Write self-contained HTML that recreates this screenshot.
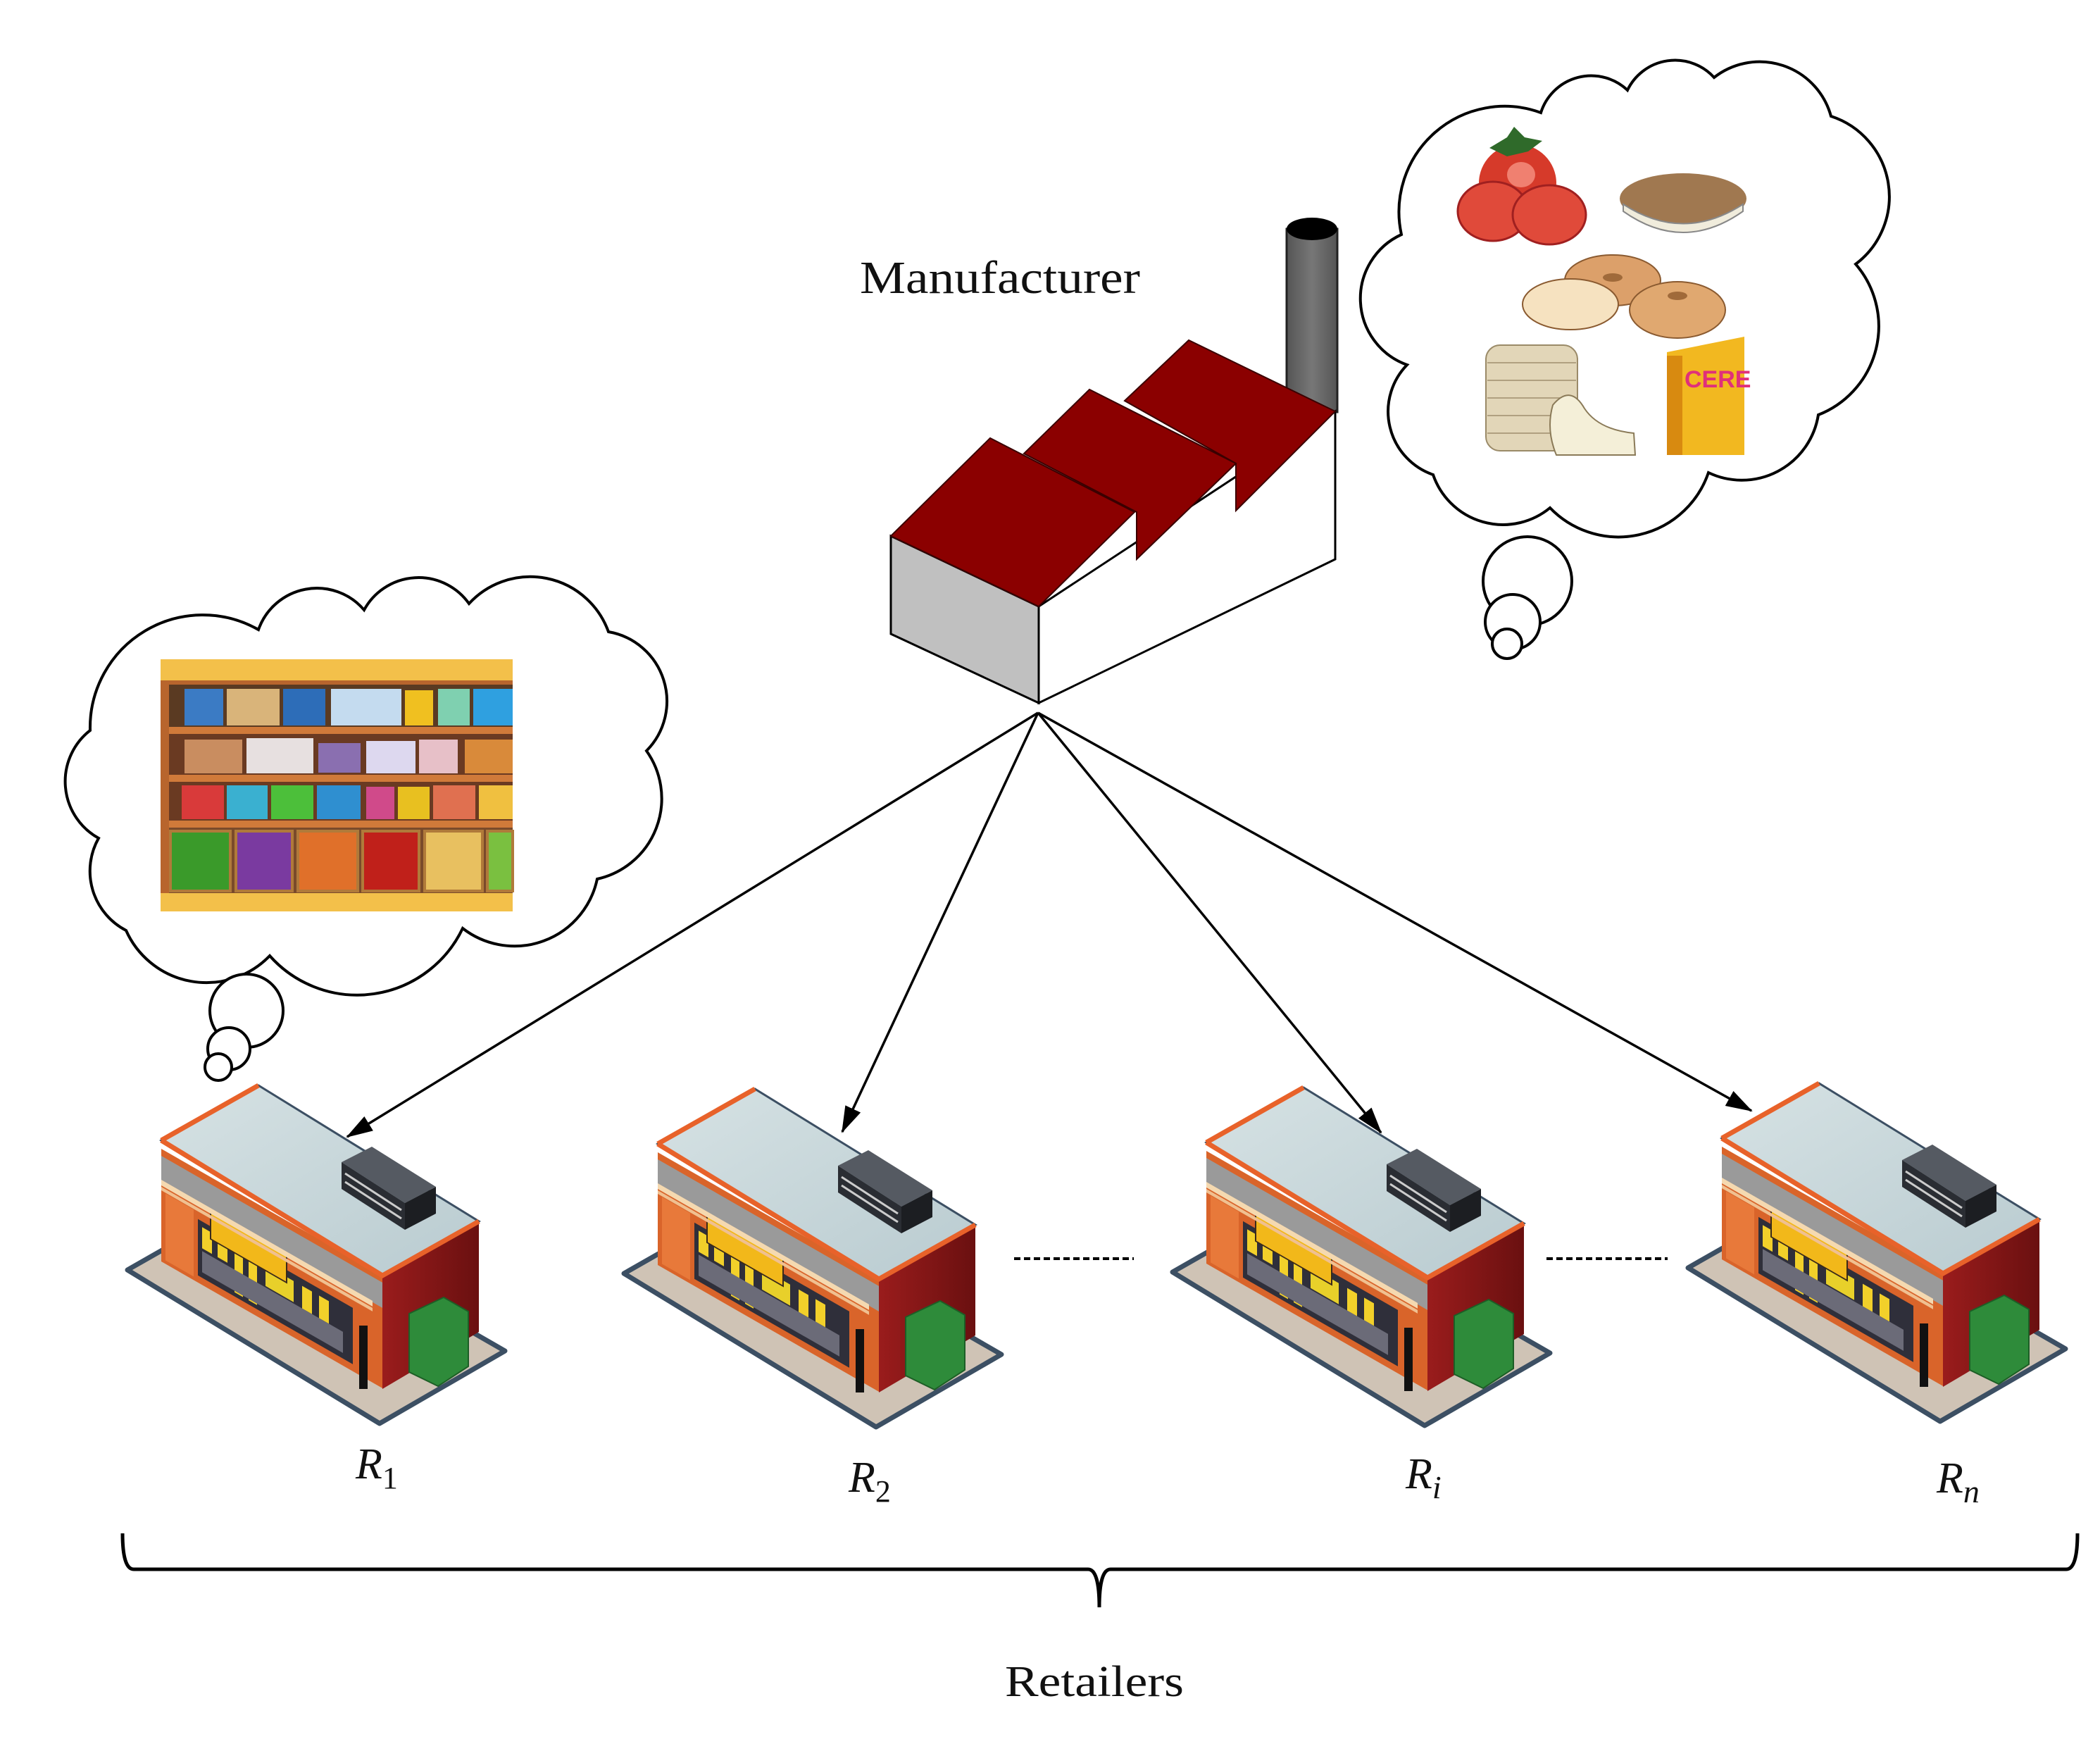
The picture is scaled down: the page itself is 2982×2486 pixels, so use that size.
<!DOCTYPE html>
<html><head><meta charset="utf-8"><style>
html,body{margin:0;padding:0;background:#fff;}
svg{display:block;}
</style></head><body>
<svg width="2982" height="2486" viewBox="0 0 2982 2486" xmlns="http://www.w3.org/2000/svg">
<defs>
<marker id="ah" markerUnits="userSpaceOnUse" markerWidth="40" markerHeight="30" refX="36" refY="12" orient="auto">
<path d="M0,0 L38,12 L0,24 Z" fill="#000"/>
</marker>
<linearGradient id="rw" x1="0" y1="0" x2="1" y2="0"><stop offset="0" stop-color="#9a1c1c"/><stop offset="1" stop-color="#6a1010"/></linearGradient>
<linearGradient id="roof" x1="0" y1="0" x2="1" y2="1"><stop offset="0" stop-color="#d6e2e4"/><stop offset="1" stop-color="#b9cbd0"/></linearGradient>
<linearGradient id="chim" x1="0" y1="0" x2="1" y2="0"><stop offset="0" stop-color="#555"/><stop offset="0.5" stop-color="#777"/><stop offset="1" stop-color="#555"/></linearGradient>
<g id="store">
  <polygon points="21,283 379,501 557,398 470,348 100,238" fill="#cfc3b5" stroke="#3c4f63" stroke-width="7" stroke-linejoin="round"/>
  <g transform="matrix(1,0.573,0,1,69,111)">
    <rect x="0" y="0" width="314" height="160" fill="#d9642a"/>
    <rect x="6" y="60" width="40" height="95" fill="#e8793a"/>
    <rect x="52" y="70" width="220" height="80" fill="#2f2f3a"/>
    <rect x="58" y="78" width="14" height="30" fill="#f2d02a"/>
    <rect x="80" y="78" width="14" height="30" fill="#f2d02a"/>
    <rect x="104" y="74" width="12" height="70" fill="#f2d02a"/>
    <rect x="124" y="74" width="12" height="70" fill="#f2d02a"/>
    <rect x="148" y="80" width="40" height="30" fill="#e8d02a"/>
    <rect x="200" y="80" width="14" height="32" fill="#f2d02a"/>
    <rect x="224" y="80" width="14" height="32" fill="#f2d02a"/>
    <rect x="58" y="112" width="200" height="30" fill="#6b6b78"/>
    <rect x="70" y="48" width="108" height="40" fill="#f2b81a" stroke="#3a2a1a" stroke-width="2"/>
    <rect x="0" y="10" width="314" height="36" fill="#9a9a9a"/>
    <rect x="0" y="44" width="300" height="8" fill="#f5d9b0"/>
    <rect x="0" y="54" width="300" height="5" fill="#f0c090"/>
  </g>
  <polygon points="383,291 520,214 520,371 383,452" fill="url(#rw)"/>
  <rect x="350" y="362" width="12" height="90" fill="#111"/>
  <polygon points="421,345 470,322 505,342 505,420 462,448 421,428" fill="#2e8b3a" stroke="#1d5e26" stroke-width="2"/>
  <polygon points="69,99 207,21 520,214 383,291" fill="url(#roof)" stroke="#3c4f63" stroke-width="3"/>
  <polyline points="69,99 383,291 520,214" fill="none" stroke="#e8622a" stroke-width="7"/>
  <line x1="69" y1="99" x2="207" y2="21" stroke="#e8622a" stroke-width="7"/>
  <polygon points="325,130 368,108 459,165 415,188" fill="#555a62"/>
  <polygon points="325,130 415,188 415,226 325,168" fill="#2a2d33"/>
  <polygon points="415,188 459,165 459,203 415,226" fill="#1c1e22"/>
  <line x1="330" y1="146" x2="410" y2="198" stroke="#ccc" stroke-width="3"/>
  <line x1="330" y1="158" x2="410" y2="210" stroke="#ccc" stroke-width="3"/>
</g>
</defs>

<text x="1221" y="416" font-family="Liberation Serif, serif" font-size="66" textLength="398" lengthAdjust="spacingAndGlyphs" fill="#111">Manufacturer</text>

<!-- Factory -->
<rect x="1827" y="325" width="72" height="260" fill="url(#chim)" stroke="#222" stroke-width="3"/>
<ellipse cx="1863" cy="325" rx="36" ry="16" fill="#000"/>
<polygon points="1475,861 1896,584 1896,794 1475,998" fill="#fff" stroke="#000" stroke-width="3"/>
<polygon points="1265,761 1475,861 1475,998 1265,900" fill="#c0c0c0" stroke="#000" stroke-width="3"/>
<polygon points="1597,569 1688,483 1896,584 1755,725 1755,658" fill="#8b0000" stroke="#3a0000" stroke-width="2"/>
<polygon points="1454,644 1547,553 1755,658 1614,794 1614,727" fill="#8b0000" stroke="#3a0000" stroke-width="2"/>
<polygon points="1265,761 1406,622 1611,727 1475,861" fill="#8b0000" stroke="#3a0000" stroke-width="2"/>

<!-- Arrows -->
<g stroke="#000" stroke-width="3.5" fill="none">
<line x1="1474" y1="1012" x2="493" y2="1614" marker-end="url(#ah)"/>
<line x1="1474" y1="1012" x2="1196" y2="1607" marker-end="url(#ah)"/>
<line x1="1474" y1="1012" x2="1961" y2="1608" marker-end="url(#ah)"/>
<line x1="1474" y1="1012" x2="2487" y2="1577" marker-end="url(#ah)"/>
</g>

<!-- Left cloud -->
<g fill="#fff" stroke="#000" stroke-width="4">
<path d="M140,1190 A92,92 0 0 1 128,1037 A160,160 0 0 1 367,894 A88,88 0 0 1 517,866 A88,88 0 0 1 666,857 A118,118 0 0 1 864,897 A100,100 0 0 1 918,1066 A117,117 0 0 1 848,1248 A120,120 0 0 1 657,1318 A166,166 0 0 1 383,1357 A125,125 0 0 1 179,1321 A95,95 0 0 1 140,1190 Z"/>
<circle cx="350" cy="1435" r="52"/>
<circle cx="325" cy="1489" r="30"/>
<circle cx="310" cy="1515" r="19"/>
</g>
<g>
<rect x="228" y="936" width="500" height="358" fill="#b8652d"/>
<rect x="228" y="936" width="500" height="30" fill="#f3c04a"/>
<rect x="240" y="972" width="488" height="60" fill="#5a3a22"/>
<rect x="262" y="978" width="55" height="52" fill="#3b7bc4"/><rect x="322" y="978" width="75" height="52" fill="#d9b47a"/><rect x="402" y="978" width="60" height="52" fill="#2d6db8"/><rect x="470" y="978" width="100" height="52" fill="#c4dbef"/><rect x="575" y="980" width="40" height="50" fill="#f0c020"/><rect x="622" y="978" width="45" height="52" fill="#7fd0b0"/><rect x="672" y="978" width="56" height="52" fill="#2fa0e0"/>
<rect x="240" y="1032" width="488" height="10" fill="#d07a3a"/>
<rect x="240" y="1042" width="488" height="58" fill="#6a3a22"/>
<rect x="262" y="1050" width="82" height="48" fill="#c98d60"/><rect x="350" y="1048" width="95" height="50" fill="#e7e0e0"/><rect x="452" y="1055" width="60" height="42" fill="#8a6fb0"/><rect x="520" y="1052" width="70" height="46" fill="#ddd8ef"/><rect x="595" y="1050" width="55" height="48" fill="#e7c0c8"/><rect x="660" y="1050" width="68" height="48" fill="#d98a3a"/>
<rect x="240" y="1100" width="488" height="10" fill="#d07a3a"/>
<rect x="240" y="1110" width="488" height="55" fill="#6a3a22"/>
<rect x="258" y="1115" width="60" height="48" fill="#d93a3a"/><rect x="322" y="1115" width="58" height="48" fill="#3ab0d0"/><rect x="385" y="1115" width="60" height="48" fill="#4cbf3a"/><rect x="450" y="1115" width="62" height="48" fill="#2f8fd0"/><rect x="520" y="1117" width="40" height="46" fill="#d04a8a"/><rect x="565" y="1117" width="45" height="46" fill="#e8c020"/><rect x="615" y="1115" width="60" height="48" fill="#e07050"/><rect x="680" y="1115" width="48" height="48" fill="#f0c040"/>
<rect x="240" y="1165" width="488" height="10" fill="#d07a3a"/>
<rect x="240" y="1175" width="488" height="95" fill="#7a4a2a"/>
<rect x="242" y="1180" width="85" height="85" fill="#3a9a2a" stroke="#b07a3a" stroke-width="4"/>
<rect x="335" y="1180" width="80" height="85" fill="#7a3aa0" stroke="#b07a3a" stroke-width="4"/>
<rect x="423" y="1180" width="85" height="85" fill="#e0702a" stroke="#b07a3a" stroke-width="4"/>
<rect x="515" y="1180" width="80" height="85" fill="#c0201a" stroke="#b07a3a" stroke-width="4"/>
<rect x="603" y="1180" width="82" height="85" fill="#e8c060" stroke="#b07a3a" stroke-width="4"/>
<rect x="692" y="1180" width="36" height="85" fill="#7ac040" stroke="#b07a3a" stroke-width="4"/>
<rect x="228" y="1268" width="500" height="26" fill="#f3c04a"/>
</g>

<!-- Right cloud -->
<g fill="#fff" stroke="#000" stroke-width="4">
<path d="M1998,518 A100,100 0 0 1 1990,333 A150,150 0 0 1 2188,160 A75,75 0 0 1 2311,128 A75,75 0 0 1 2434,110 A105,105 0 0 1 2600,165 A120,120 0 0 1 2635,375 A135,135 0 0 1 2582,589 A110,110 0 0 1 2426,671 A135,135 0 0 1 2201,721 A105,105 0 0 1 2035,674 A95,95 0 0 1 1998,518 Z"/>
<circle cx="2169" cy="825" r="63"/>
<circle cx="2148" cy="883" r="39"/>
<circle cx="2140" cy="914" r="21"/>
</g>
<g>
<circle cx="2155" cy="260" r="55" fill="#d63a2a"/>
<ellipse cx="2120" cy="300" rx="50" ry="42" fill="#e04a3a" stroke="#a02020" stroke-width="3"/>
<ellipse cx="2200" cy="305" rx="52" ry="42" fill="#e04a3a" stroke="#a02020" stroke-width="3"/>
<ellipse cx="2160" cy="248" rx="20" ry="18" fill="#f08070"/>
<path d="M2115,210 L2140,195 L2150,180 L2165,195 L2190,200 L2170,215 L2140,222 Z" fill="#2f6a2a"/>
<ellipse cx="2390" cy="282" rx="90" ry="36" fill="#a07850"/>
<path d="M2305,290 Q2390,345 2475,290 L2475,300 Q2390,360 2305,300 Z" fill="#f0ecdc" stroke="#888" stroke-width="2"/>
<ellipse cx="2290" cy="398" rx="68" ry="36" fill="#dca06a" stroke="#8a5a30" stroke-width="2"/>
<ellipse cx="2290" cy="394" rx="14" ry="6" fill="#a06a3a"/>
<ellipse cx="2230" cy="432" rx="68" ry="36" fill="#f6e2c0" stroke="#8a5a30" stroke-width="2"/>
<ellipse cx="2382" cy="440" rx="68" ry="40" fill="#e0a870" stroke="#8a5a30" stroke-width="2"/>
<ellipse cx="2382" cy="420" rx="14" ry="6" fill="#a06a3a"/>
<rect x="2110" y="490" width="130" height="150" rx="20" fill="#e2d6b8" stroke="#9a8a68" stroke-width="2"/>
<g stroke="#b0a080" stroke-width="2"><line x1="2112" y1="515" x2="2238" y2="515"/><line x1="2112" y1="540" x2="2238" y2="540"/><line x1="2112" y1="565" x2="2238" y2="565"/><line x1="2112" y1="590" x2="2238" y2="590"/><line x1="2112" y1="615" x2="2238" y2="615"/></g>
<path d="M2205,575 Q2230,545 2250,580 Q2270,610 2320,615 L2322,646 L2210,646 Q2195,610 2205,575 Z" fill="#f4efd8" stroke="#8a7a58" stroke-width="2"/>
<polygon points="2367,500 2477,478 2477,646 2367,646" fill="#f2b820"/>
<rect x="2367" y="505" width="22" height="141" fill="#d88a10"/>
<text x="2392" y="550" font-family="Liberation Sans, sans-serif" font-size="34" font-weight="bold" fill="#e0307a">CERE</text>
</g>

<use href="#store" transform="translate(160,1520)"/>
<use href="#store" transform="translate(865,1525)"/>
<use href="#store" transform="translate(1644,1523)"/>
<use href="#store" transform="translate(2376,1517)"/>

<g stroke="#000" stroke-width="4" stroke-dasharray="9,5">
<line x1="1440" y1="1787" x2="1610" y2="1787"/>
<line x1="2196" y1="1787" x2="2368" y2="1787"/>
</g>

<g font-family="Liberation Serif, serif" fill="#111">
<text x="505" y="2099" font-size="62" font-style="italic">R<tspan font-size="44" font-style="normal" dy="14">1</tspan></text>
<text x="1205" y="2118" font-size="62" font-style="italic">R<tspan font-size="44" font-style="normal" dy="14">2</tspan></text>
<text x="1996" y="2113" font-size="62" font-style="italic">R<tspan font-size="46" dy="14">i</tspan></text>
<text x="2750" y="2119" font-size="62" font-style="italic">R<tspan font-size="46" dy="14">n</tspan></text>
<text x="1427" y="2408" font-size="62" textLength="254" lengthAdjust="spacingAndGlyphs">Retailers</text>
</g>

<path d="M174,2177 Q174,2228 190,2228 L1545,2228 Q1561,2228 1561,2282 Q1561,2228 1577,2228 L2934,2228 Q2950,2228 2950,2177" fill="none" stroke="#000" stroke-width="5"/>
</svg>
</body></html>
